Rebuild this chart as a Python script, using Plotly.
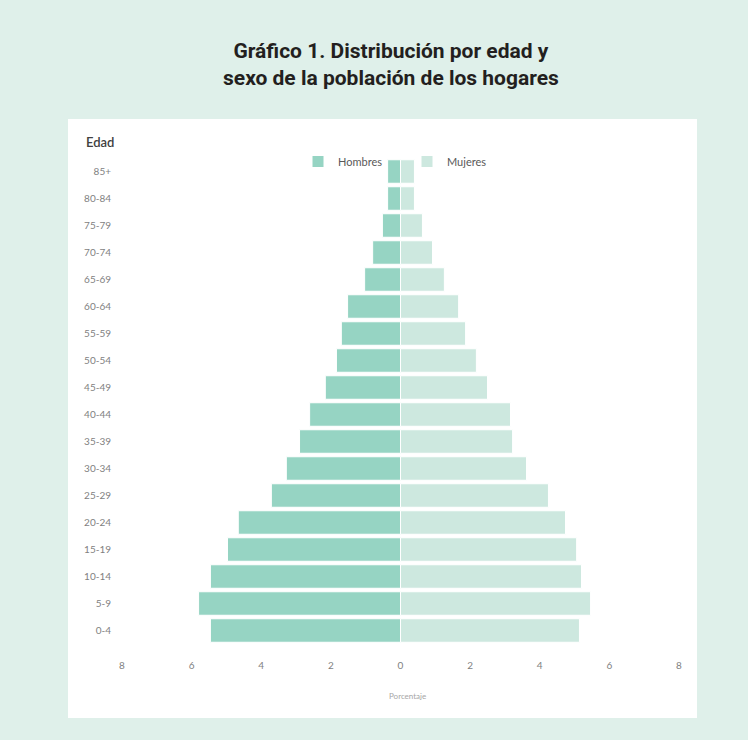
import plotly.graph_objects as go

# Age groups, from youngest to oldest
edades = ["0-4", "5-9", "10-14", "15-19", "20-24", "25-29", "30-34", "35-39",
          "40-44", "45-49", "50-54", "55-59", "60-64", "65-69", "70-74",
          "75-79", "80-84", "85+"]

# Share of household population (%) by sex
hombres = [5.46, 5.80, 5.46, 4.97, 4.66, 3.71, 3.28, 2.90,
           2.61, 2.16, 1.84, 1.70, 1.52, 1.03, 0.80, 0.52, 0.37, 0.37]
mujeres = [5.14, 5.46, 5.20, 5.06, 4.74, 4.25, 3.62, 3.22,
           3.16, 2.50, 2.18, 1.87, 1.67, 1.26, 0.92, 0.63, 0.40, 0.40]

tick_vals = [-8, -6, -4, -2, 0, 2, 4, 6, 8]
tick_text = ["8", "6", "4", "2", "0", "2", "4", "6", "8"]

color_h = "#96d4c3"
color_m = "#cde8df"
bg = "#dff0ea"
tick_font = dict(family="Lato, Open Sans, sans-serif", size=10, color="#7f7f7f")

fig = go.Figure()
fig.add_trace(go.Bar(
    y=edades, x=[-v for v in hombres], customdata=hombres, name="Hombres",
    orientation="h", marker=dict(color=color_h, line=dict(color="white", width=1)),
    hovertemplate="%{y}: %{customdata}%<extra>Hombres</extra>",
))
fig.add_trace(go.Bar(
    y=edades, x=mujeres, name="Mujeres",
    orientation="h", marker=dict(color=color_m, line=dict(color="white", width=1)),
    hovertemplate="%{y}: %{x}%<extra>Mujeres</extra>",
))

W, H = 748, 740
ml, mr, mt, mb = 122, 69, 158, 96
pw, ph = W - ml - mr, H - mt - mb


def px_x(p):
    return (p - ml) / pw


def px_y(p):
    return (H - mb - p) / ph


fig.update_layout(
    width=W, height=H,
    margin=dict(l=ml, r=mr, t=mt, b=mb),
    paper_bgcolor=bg, plot_bgcolor="white",
    barmode="relative", bargap=0.13,
    showlegend=True,
    legend=dict(orientation="h", x=px_x(298), y=px_y(147), xanchor="left", yanchor="top",
                font=dict(family="Lato, Open Sans, sans-serif", size=11, color="#595959"),
                entrywidth=64, entrywidthmode="pixels", traceorder="normal",
                itemwidth=30, bgcolor="rgba(0,0,0,0)"),
    xaxis=dict(range=[-8, 8], tickvals=tick_vals, ticktext=tick_text,
               showgrid=False, zeroline=False, showline=False,
               tickfont=tick_font, ticklabelstandoff=14, fixedrange=True),
    yaxis=dict(showgrid=False, zeroline=False, showline=False,
               tickfont=tick_font, ticklabelstandoff=10, fixedrange=True),
    shapes=[dict(type="rect", xref="paper", yref="paper", layer="below",
                 x0=px_x(68), x1=px_x(697), y0=px_y(718), y1=px_y(119),
                 fillcolor="white", line=dict(width=0))],
    annotations=[
        dict(text="<b>Gráfico 1. Distribución por edad y<br>sexo de la población de los hogares</b>",
             xref="paper", yref="paper", x=px_x(391), y=px_y(64),
             xanchor="center", yanchor="middle", showarrow=False,
             font=dict(family="Roboto, Liberation Sans, sans-serif",
                       size=21, color="#231f20")),
        dict(text="Edad", xref="paper", yref="paper", x=px_x(84), y=px_y(142),
             xanchor="left", yanchor="middle", showarrow=False,
             font=dict(family="Lato, Open Sans, sans-serif", size=13, color="#404040",
                       weight=600)),
        dict(text="Porcentaje", xref="paper", yref="paper", x=px_x(407), y=px_y(696),
             xanchor="center", yanchor="middle", showarrow=False,
             font=dict(family="Lato, Open Sans, sans-serif", size=8, color="#a6a6a6")),
    ],
)

fig.write_html("out.html")
